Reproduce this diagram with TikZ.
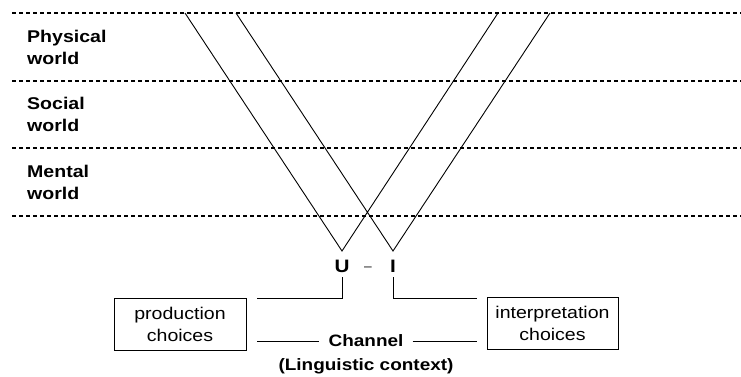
\documentclass[tikz,border=0pt]{standalone}
\usepackage{fontspec}
\setmainfont{Liberation Sans}[FakeStretch=1.15]

\begin{document}
\begin{tikzpicture}[x=1pt,y=-1pt,every node/.style={inner sep=0pt},layer/.style={dash pattern=on 4pt off 3pt,line width=1.6pt},world/.style={font=\fontsize{17}{22}\selectfont\bfseries,align=left,anchor=west},choice/.style={draw,line width=1pt,minimum width=132pt,minimum height=52pt,align=center,font=\fontsize{17}{22}\selectfont},lbl/.style={font=\fontsize{16.5}{22}\selectfont\bfseries,anchor=base}]
\useasboundingbox (0,0) rectangle (741,376);
\foreach \y in {13,81,148,216} \draw[layer] (12,\y) -- (741,\y);
\node[world] (phys) at (27,47) {Physical\\world};
\node[world] (soc) at (27,114) {Social\\world};
\node[world] (ment) at (27,182) {Mental\\world};
% the two V's
\coordinate (u) at (342,251); \coordinate (i) at (393,251);
\coordinate (ul) at (185,13); \coordinate (ur) at (498,13);
\coordinate (il) at (236,13); \coordinate (ir) at (550,13);
\draw[line width=0.9pt] (ul) -- (u) -- (ur) (il) -- (i) -- (ir);
\node[lbl,outer sep=5pt,font=\fontsize{18}{22}\selectfont\bfseries] (U) at (342,272) {U};
\node[lbl,outer sep=5pt,font=\fontsize{18}{22}\selectfont\bfseries] (I) at (393,272) {I};
\node[lbl,font=\fontsize{12}{22}\selectfont] (dash) at (368,270) {–};
\node[choice] (prod) at (180,324) {production\\choices};
\node[choice,minimum width=131pt] (interp) at (552.5,323) {interpretation\\choices};
\coordinate (uend) at (257,298); \coordinate (iend) at (477,298);
\draw[line width=1pt] (U.south) |- (uend) (I.south) |- (iend);
\node[lbl,anchor=center,inner xsep=9pt] (chan) at (366,341) {Channel};
\node[lbl] (ctx) at (366,370) {(Linguistic context)};
\coordinate (chl) at (257,341); \coordinate (chr) at (477,341);
\draw[line width=1pt] (chl) -- (chan.west) (chan.east) -- (chr);
\end{tikzpicture}
\end{document}
